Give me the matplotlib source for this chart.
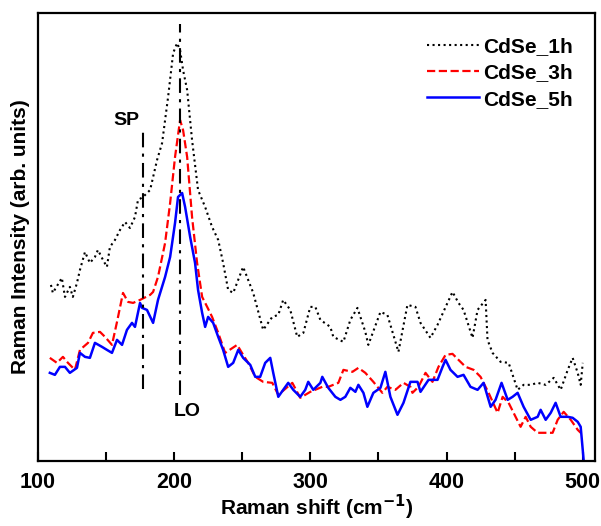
import numpy as np
import matplotlib
matplotlib.use("Agg")
import matplotlib.pyplot as plt

plt.rcParams['font.family'] = ['Liberation Sans', 'DejaVu Sans']
plt.rcParams['font.weight'] = 'bold'

# ---- data (arbitrary intensity units) ----
x_1h = [109.6, 111.0, 117.6, 119.9, 123.5, 125.7, 128.7, 130.9, 134.6, 138.2,
        141.9, 144.1, 147.8, 150.7, 152.9, 156.6, 160.3, 164.0, 167.6, 171.3,
        173.5, 177.2, 182.4, 187.5, 191.2, 195.6, 199.3, 202.2, 204.4, 206.6,
        209.6, 213.2, 217.6, 222.8, 227.9, 232.4, 236.0, 239.7, 243.4, 250.7,
        258.1, 265.4, 272.1, 276.5, 280.1, 285.3, 290.4, 294.9, 300.0, 303.7,
        307.4, 314.7, 316.9, 324.3, 329.4, 334.6, 340.4, 342.6, 351.5, 356.6,
        364.7, 371.3, 377.2, 380.9, 388.2, 393.4, 400.7, 404.4, 408.8, 412.5,
        419.1, 422.8, 428.7, 430.1, 433.8, 439.7, 445.6, 452.2, 456.6, 461.8,
        466.9, 472.8, 478.7, 483.8, 489.0, 492.6, 496.3, 498.5, 500.0]
y_1h = [176, 168, 183, 164, 174, 164, 178, 191, 209, 198,
        204, 211, 201, 194, 214, 221, 231, 239, 233, 244,
        261, 264, 271, 301, 318, 364, 408, 418, 411, 391,
        371, 321, 271, 254, 234, 221, 198, 171, 168, 194,
        168, 131, 144, 146, 161, 151, 124, 128, 154, 154,
        141, 134, 124, 119, 141, 153, 129, 116, 149, 146,
        109, 156, 154, 138, 123, 136, 158, 169, 158, 151,
        123, 151, 161, 121, 108, 99, 98, 71, 76, 76,
        78, 76, 83, 71, 91, 103, 88, 76, 98]

x_3h = [108.8, 114.0, 118.4, 122.1, 127.2, 130.9, 136.8, 140.4, 145.6, 149.3,
        154.4, 158.1, 162.5, 166.2, 169.9, 175.0, 182.4, 184.6, 188.2, 193.4,
        197.1, 200.7, 204.4, 206.6, 209.6, 213.2, 216.9, 220.6, 224.3, 227.9,
        232.4, 237.5, 246.3, 250.7, 254.4, 259.6, 265.4, 272.1, 276.5, 286.8,
        292.6, 300.0, 308.8, 313.2, 320.6, 324.3, 330.9, 335.3, 340.4, 346.3,
        352.9, 356.6, 362.5, 368.4, 373.5, 375.0, 379.4, 384.6, 389.7, 394.1,
        399.3, 404.4, 408.8, 414.0, 419.9, 425.0, 430.9, 437.5, 441.2, 445.6,
        450.7, 454.4, 458.1, 461.8, 466.9, 472.8, 477.9, 481.6, 486.0, 491.2,
        496.3, 498.5]
y_3h = [103, 98, 104, 98, 91, 111, 118, 128, 129, 124,
        116, 139, 168, 159, 158, 161, 166, 169, 184, 218,
        258, 304, 341, 331, 304, 244, 198, 164, 154, 144,
        128, 108, 116, 106, 98, 84, 79, 78, 66, 78,
        63, 69, 74, 74, 78, 91, 89, 93, 88, 79,
        68, 74, 71, 78, 74, 68, 74, 88, 79, 94,
        106, 107, 101, 94, 91, 84, 68, 48, 64, 58,
        44, 34, 44, 34, 28, 28, 28, 41, 49, 41,
        31, 28]

x_5h = [108.8, 112.5, 116.2, 119.9, 123.5, 128.7, 130.9, 134.6, 138.2, 141.9,
        147.1, 150.7, 154.4, 158.1, 161.8, 165.4, 169.1, 171.3, 175.0, 176.5,
        180.1, 184.6, 188.2, 193.4, 197.1, 200.7, 202.9, 205.9, 208.1, 211.8,
        215.4, 217.6, 220.6, 222.8, 225.0, 228.7, 232.4, 236.0, 239.7, 243.4,
        247.1, 250.7, 255.9, 259.6, 263.2, 266.9, 270.6, 272.8, 276.5, 280.1,
        283.8, 287.5, 292.6, 296.3, 298.5, 302.2, 307.4, 308.8, 313.2, 318.4,
        322.1, 325.7, 329.4, 333.1, 335.3, 339.0, 341.9, 346.3, 351.5, 355.1,
        358.8, 364.0, 368.4, 373.5, 378.7, 380.9, 386.8, 393.4, 397.1, 399.3,
        402.9, 408.1, 412.5, 417.6, 422.8, 427.2, 432.4, 436.0, 440.4, 444.9,
        448.5, 452.2, 456.6, 461.8, 466.9, 469.1, 472.8, 476.5, 480.1, 483.8,
        489.0, 492.6, 496.3, 498.5, 500.0, 500.7]
y_5h = [88, 86, 94, 94, 88, 93, 108, 104, 103, 118,
        114, 111, 108, 121, 116, 131, 138, 134, 158, 153,
        151, 138, 161, 184, 204, 238, 264, 268, 254, 224,
        198, 171, 148, 134, 144, 138, 124, 111, 94, 98,
        111, 103, 96, 84, 84, 98, 103, 88, 64, 71,
        78, 71, 64, 71, 79, 71, 78, 84, 73, 64,
        61, 64, 73, 69, 76, 68, 54, 68, 73, 89,
        64, 46, 58, 79, 79, 69, 81, 81, 94, 101,
        91, 84, 86, 74, 71, 78, 54, 61, 78, 61,
        64, 68, 54, 41, 44, 51, 41, 48, 58, 44,
        44, 43, 39, 34, 11, 0]

labels = ['CdSe_1h', 'CdSe_3h', 'CdSe_5h']
sp_pos = 177.0
lo_pos = 204.5

# ---- figure ----
fig = plt.figure(figsize=(6.01, 5.26), dpi=100)
ax = fig.add_axes([0.063, 0.124, 0.927, 0.851])

ax.plot(x_1h, y_1h, ':', color='black', lw=1.5, label=labels[0])
ax.plot(x_3h, y_3h, '--', color='red', lw=1.6, label=labels[1])
ax.plot(x_5h, y_5h, '-', color='blue', lw=1.8, label=labels[2])

# mode markers
ax.plot([sp_pos, sp_pos], [72, 329], color='black', lw=1.5, ls=(0, (7, 3, 1.5, 3)))
ax.plot([lo_pos, lo_pos], [66, 437], color='black', lw=1.5, ls=(0, (7, 3, 1.5, 3)))
ax.text(165, 341, 'SP', fontsize=14, fontweight='bold', ha='center', va='center')
ax.text(210, 49, 'LO', fontsize=14, fontweight='bold', ha='center', va='center')

ax.set_xlim(100, 509)
ax.set_ylim(0, 448)
ax.set_xticks([100, 200, 300, 400, 500])
ax.set_xticks([150, 250, 350, 450], minor=True)
ax.tick_params(axis='x', which='both', direction='in', length=6.5, width=1.5,
               labelsize=15.5, pad=8)
ax.set_yticks([])
for s in ax.spines.values():
    s.set_linewidth(1.6)

ax.set_xlabel('Raman shift (cm$^{\\mathbf{-1}}$)', fontsize=15, fontweight='bold', labelpad=0)
ax.set_ylabel('Raman Intensity (arb. units)', fontsize=15, fontweight='bold', labelpad=6)

ax.legend(loc='upper right', bbox_to_anchor=(0.975, 0.965), borderaxespad=0,
          frameon=False, handlelength=2.5, handletextpad=0.2, labelspacing=0.35,
          prop={'weight': 'bold', 'size': 15})

fig.savefig('out.png', dpi=100)
